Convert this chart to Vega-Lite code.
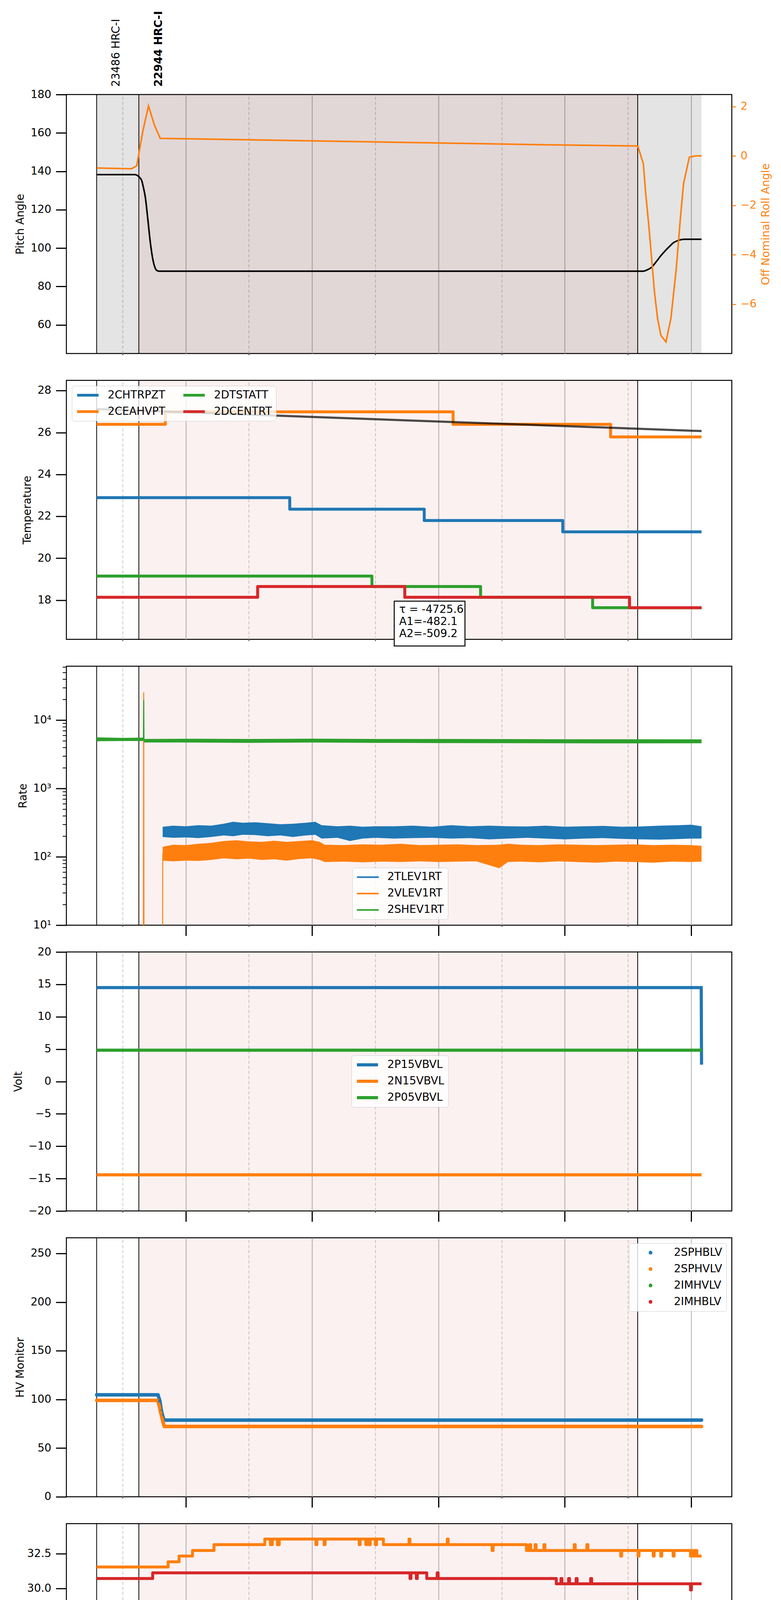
{
  "$schema": "https://vega.github.io/schema/vega-lite/v6.json",
  "padding": {"left": 28, "top": 26, "right": 20, "bottom": 8},
  "background": "white",
  "bounds": "flush",
  "spacing": 68.7,
  "resolve": {"scale": {"color": "independent", "fill": "independent", "stroke": "independent"}},
  "config": {
    "font": "DejaVu Sans",
    "view": {"stroke": "black", "strokeWidth": 2.5},
    "axis": {
      "labelFont": "DejaVu Sans", "titleFont": "DejaVu Sans",
      "labelFontSize": 27.8, "titleFontSize": 27.8, "titleFontWeight": "normal",
      "labelColor": "black", "titleColor": "black", "tickColor": "black",
      "labelFlush": false, "labelOverlap": false, "domain": false
    },
    "axisY": {"tickSize": 27, "tickWidth": 3, "labelPadding": 12, "titlePadding": 11, "grid": false},
    "legend": {
      "labelFont": "DejaVu Sans", "labelFontSize": 27.8, "labelColor": "black", "labelLimit": 400,
      "labelOffset": 20, "rowPadding": 14, "columnPadding": 42, "padding": 10, "clipHeight": 28,
      "fillColor": "rgba(255,255,255,0.8)", "strokeColor": "#cccccc", "cornerRadius": 6
    }
  },
  "datasets": {
    "obs": [
      {"obs": "23486 HRC-I", "start": 16.589, "stop": 17.257},
      {"obs": "22944 HRC-I", "start": 17.257, "stop": 25.154}
    ],
    "span": [{"start": 16.589, "stop": 26.165}],
    "pitch": [
      {"h": 16.589, "v": 138.3}, {"h": 17.2, "v": 138.3}, {"h": 17.235, "v": 137.8}, {"h": 17.27, "v": 136.8},
      {"h": 17.303, "v": 135.1}, {"h": 17.33, "v": 131.5}, {"h": 17.359, "v": 126.7}, {"h": 17.396, "v": 116},
      {"h": 17.439, "v": 102.9}, {"h": 17.476, "v": 94.6}, {"h": 17.513, "v": 89.8}, {"h": 17.545, "v": 88.3},
      {"h": 17.578, "v": 88.0}, {"h": 25.24, "v": 88.0}, {"h": 25.3, "v": 88.6}, {"h": 25.38, "v": 90.2},
      {"h": 25.45, "v": 93.0}, {"h": 25.52, "v": 96.0}, {"h": 25.595, "v": 98.8}, {"h": 25.665, "v": 101.1},
      {"h": 25.72, "v": 102.8}, {"h": 25.78, "v": 103.8}, {"h": 25.84, "v": 104.4}, {"h": 25.9, "v": 104.6},
      {"h": 26.165, "v": 104.6}
    ],
    "roll": [
      {"h": 16.592, "v": -0.49}, {"h": 17.142, "v": -0.52}, {"h": 17.224, "v": -0.4}, {"h": 17.317, "v": 0.96},
      {"h": 17.41, "v": 2.02}, {"h": 17.503, "v": 1.25}, {"h": 17.596, "v": 0.71}, {"h": 23.728, "v": 0.45},
      {"h": 25.156, "v": 0.4}, {"h": 25.244, "v": -0.32}, {"h": 25.279, "v": -1.47}, {"h": 25.336, "v": -2.98},
      {"h": 25.386, "v": -4.5}, {"h": 25.42, "v": -5.52}, {"h": 25.47, "v": -6.6}, {"h": 25.522, "v": -7.27},
      {"h": 25.602, "v": -7.53}, {"h": 25.68, "v": -6.58}, {"h": 25.763, "v": -4.62}, {"h": 25.835, "v": -2.38},
      {"h": 25.881, "v": -1.11}, {"h": 25.972, "v": -0.05}, {"h": 26.071, "v": 0.0}, {"h": 26.165, "v": 0.0}
    ],
    "temp": [
      {"s": "2CHTRPZT", "h": 16.589, "v": 22.89}, {"s": "2CHTRPZT", "h": 19.646, "v": 22.34},
      {"s": "2CHTRPZT", "h": 21.775, "v": 21.8}, {"s": "2CHTRPZT", "h": 23.968, "v": 21.26},
      {"s": "2CHTRPZT", "h": 26.165, "v": 21.26},
      {"s": "2CEAHVPT", "h": 16.589, "v": 26.39}, {"s": "2CEAHVPT", "h": 17.677, "v": 26.99},
      {"s": "2CEAHVPT", "h": 22.232, "v": 26.39}, {"s": "2CEAHVPT", "h": 24.725, "v": 25.79},
      {"s": "2CEAHVPT", "h": 26.165, "v": 25.79},
      {"s": "2DTSTATT", "h": 16.589, "v": 19.15}, {"s": "2DTSTATT", "h": 20.947, "v": 18.65},
      {"s": "2DTSTATT", "h": 22.667, "v": 18.14}, {"s": "2DTSTATT", "h": 24.441, "v": 17.64},
      {"s": "2DTSTATT", "h": 26.165, "v": 17.64},
      {"s": "2DCENTRT", "h": 16.589, "v": 18.14}, {"s": "2DCENTRT", "h": 19.138, "v": 18.65},
      {"s": "2DCENTRT", "h": 21.467, "v": 18.14}, {"s": "2DCENTRT", "h": 25.025, "v": 17.64},
      {"s": "2DCENTRT", "h": 26.165, "v": 17.64}
    ],
    "tmodel": [{"h": 16.589, "v": 27.12}, {"h": 26.165, "v": 26.07}],
    "rateband": [
      {"s": "2TLEV1RT", "h": 17.634, "lo": 195, "hi": 275}, {"s": "2TLEV1RT", "h": 17.8, "lo": 190, "hi": 285},
      {"s": "2TLEV1RT", "h": 18.0, "lo": 192, "hi": 280}, {"s": "2TLEV1RT", "h": 18.2, "lo": 188, "hi": 290},
      {"s": "2TLEV1RT", "h": 18.4, "lo": 195, "hi": 285}, {"s": "2TLEV1RT", "h": 18.6, "lo": 205, "hi": 305},
      {"s": "2TLEV1RT", "h": 18.75, "lo": 200, "hi": 325}, {"s": "2TLEV1RT", "h": 18.9, "lo": 210, "hi": 315},
      {"s": "2TLEV1RT", "h": 19.1, "lo": 208, "hi": 320}, {"s": "2TLEV1RT", "h": 19.3, "lo": 200, "hi": 310},
      {"s": "2TLEV1RT", "h": 19.5, "lo": 205, "hi": 300}, {"s": "2TLEV1RT", "h": 19.7, "lo": 195, "hi": 305},
      {"s": "2TLEV1RT", "h": 19.9, "lo": 205, "hi": 315}, {"s": "2TLEV1RT", "h": 20.05, "lo": 210, "hi": 325},
      {"s": "2TLEV1RT", "h": 20.15, "lo": 185, "hi": 290}, {"s": "2TLEV1RT", "h": 20.4, "lo": 190, "hi": 280},
      {"s": "2TLEV1RT", "h": 20.6, "lo": 170, "hi": 285}, {"s": "2TLEV1RT", "h": 20.8, "lo": 185, "hi": 275},
      {"s": "2TLEV1RT", "h": 21.0, "lo": 190, "hi": 280}, {"s": "2TLEV1RT", "h": 21.3, "lo": 185, "hi": 280},
      {"s": "2TLEV1RT", "h": 21.6, "lo": 188, "hi": 285}, {"s": "2TLEV1RT", "h": 21.9, "lo": 190, "hi": 275},
      {"s": "2TLEV1RT", "h": 22.2, "lo": 185, "hi": 290}, {"s": "2TLEV1RT", "h": 22.5, "lo": 188, "hi": 280},
      {"s": "2TLEV1RT", "h": 22.8, "lo": 180, "hi": 285}, {"s": "2TLEV1RT", "h": 23.1, "lo": 185, "hi": 280},
      {"s": "2TLEV1RT", "h": 23.4, "lo": 190, "hi": 278}, {"s": "2TLEV1RT", "h": 23.7, "lo": 185, "hi": 285},
      {"s": "2TLEV1RT", "h": 24.0, "lo": 180, "hi": 275}, {"s": "2TLEV1RT", "h": 24.3, "lo": 185, "hi": 280},
      {"s": "2TLEV1RT", "h": 24.6, "lo": 188, "hi": 283}, {"s": "2TLEV1RT", "h": 24.9, "lo": 183, "hi": 275},
      {"s": "2TLEV1RT", "h": 25.2, "lo": 180, "hi": 278}, {"s": "2TLEV1RT", "h": 25.5, "lo": 178, "hi": 285},
      {"s": "2TLEV1RT", "h": 25.8, "lo": 182, "hi": 290}, {"s": "2TLEV1RT", "h": 26.0, "lo": 185, "hi": 295},
      {"s": "2TLEV1RT", "h": 26.165, "lo": 185, "hi": 280},
      {"s": "2VLEV1RT", "h": 17.634, "lo": 88, "hi": 140}, {"s": "2VLEV1RT", "h": 17.8, "lo": 86, "hi": 150},
      {"s": "2VLEV1RT", "h": 18.0, "lo": 88, "hi": 148}, {"s": "2VLEV1RT", "h": 18.2, "lo": 87, "hi": 155},
      {"s": "2VLEV1RT", "h": 18.4, "lo": 90, "hi": 160}, {"s": "2VLEV1RT", "h": 18.6, "lo": 95, "hi": 170},
      {"s": "2VLEV1RT", "h": 18.8, "lo": 92, "hi": 175}, {"s": "2VLEV1RT", "h": 19.0, "lo": 94, "hi": 168},
      {"s": "2VLEV1RT", "h": 19.2, "lo": 90, "hi": 165}, {"s": "2VLEV1RT", "h": 19.4, "lo": 92, "hi": 172},
      {"s": "2VLEV1RT", "h": 19.6, "lo": 88, "hi": 165}, {"s": "2VLEV1RT", "h": 19.8, "lo": 93, "hi": 170},
      {"s": "2VLEV1RT", "h": 20.0, "lo": 95, "hi": 175}, {"s": "2VLEV1RT", "h": 20.12, "lo": 90, "hi": 165},
      {"s": "2VLEV1RT", "h": 20.2, "lo": 84, "hi": 150}, {"s": "2VLEV1RT", "h": 20.5, "lo": 85, "hi": 148},
      {"s": "2VLEV1RT", "h": 20.8, "lo": 83, "hi": 152}, {"s": "2VLEV1RT", "h": 21.1, "lo": 85, "hi": 150},
      {"s": "2VLEV1RT", "h": 21.4, "lo": 84, "hi": 155}, {"s": "2VLEV1RT", "h": 21.7, "lo": 86, "hi": 148},
      {"s": "2VLEV1RT", "h": 22.0, "lo": 84, "hi": 150}, {"s": "2VLEV1RT", "h": 22.3, "lo": 85, "hi": 152},
      {"s": "2VLEV1RT", "h": 22.6, "lo": 86, "hi": 148}, {"s": "2VLEV1RT", "h": 22.96, "lo": 68, "hi": 150},
      {"s": "2VLEV1RT", "h": 23.1, "lo": 84, "hi": 155}, {"s": "2VLEV1RT", "h": 23.3, "lo": 85, "hi": 150},
      {"s": "2VLEV1RT", "h": 23.6, "lo": 83, "hi": 148}, {"s": "2VLEV1RT", "h": 23.9, "lo": 86, "hi": 152},
      {"s": "2VLEV1RT", "h": 24.2, "lo": 84, "hi": 150}, {"s": "2VLEV1RT", "h": 24.5, "lo": 82, "hi": 148},
      {"s": "2VLEV1RT", "h": 24.8, "lo": 85, "hi": 150}, {"s": "2VLEV1RT", "h": 25.1, "lo": 84, "hi": 152},
      {"s": "2VLEV1RT", "h": 25.4, "lo": 82, "hi": 148}, {"s": "2VLEV1RT", "h": 25.7, "lo": 85, "hi": 150},
      {"s": "2VLEV1RT", "h": 26.0, "lo": 84, "hi": 148}, {"s": "2VLEV1RT", "h": 26.165, "lo": 85, "hi": 145},
      {"s": "2SHEV1RT", "h": 16.589, "lo": 4900, "hi": 5600}, {"s": "2SHEV1RT", "h": 17.0, "lo": 4950, "hi": 5500},
      {"s": "2SHEV1RT", "h": 17.33, "lo": 4950, "hi": 5550}, {"s": "2SHEV1RT", "h": 17.34, "lo": 4700, "hi": 5300},
      {"s": "2SHEV1RT", "h": 18.0, "lo": 4700, "hi": 5330}, {"s": "2SHEV1RT", "h": 19.0, "lo": 4650, "hi": 5300},
      {"s": "2SHEV1RT", "h": 20.0, "lo": 4700, "hi": 5350}, {"s": "2SHEV1RT", "h": 21.0, "lo": 4650, "hi": 5300},
      {"s": "2SHEV1RT", "h": 22.0, "lo": 4620, "hi": 5300}, {"s": "2SHEV1RT", "h": 23.0, "lo": 4600, "hi": 5280},
      {"s": "2SHEV1RT", "h": 24.0, "lo": 4580, "hi": 5250}, {"s": "2SHEV1RT", "h": 25.0, "lo": 4560, "hi": 5250},
      {"s": "2SHEV1RT", "h": 26.165, "lo": 4580, "hi": 5230}
    ],
    "ratespike": [
      {"s": "2VLEV1RT", "h": 17.329, "v": 1}, {"s": "2VLEV1RT", "h": 17.334, "v": 25500},
      {"s": "2VLEV1RT", "h": 17.339, "v": 1}, {"s": "2VLEV1RT", "h": 17.632, "v": 1},
      {"s": "2VLEV1RT", "h": 17.636, "v": 112},
      {"s": "2SHEV1RT", "h": 17.329, "v": 5100}, {"s": "2SHEV1RT", "h": 17.334, "v": 19800},
      {"s": "2SHEV1RT", "h": 17.339, "v": 5000}
    ],
    "volt": [
      {"s": "2P15VBVL", "h": 16.589, "v": 14.5}, {"s": "2P15VBVL", "h": 26.16, "v": 14.5}, {"s": "2P15VBVL", "h": 26.165, "v": 2.6},
      {"s": "2N15VBVL", "h": 16.589, "v": -14.42}, {"s": "2N15VBVL", "h": 26.165, "v": -14.42},
      {"s": "2P05VBVL", "h": 16.589, "v": 4.84}, {"s": "2P05VBVL", "h": 26.165, "v": 4.84}
    ],
    "hv": [
      {"s": "2SPHBLV", "h": 16.589, "v": 104.7}, {"s": "2SPHBLV", "h": 17.56, "v": 104.7},
      {"s": "2SPHBLV", "h": 17.59, "v": 98.5}, {"s": "2SPHBLV", "h": 17.615, "v": 88},
      {"s": "2SPHBLV", "h": 17.635, "v": 83}, {"s": "2SPHBLV", "h": 17.655, "v": 78.8},
      {"s": "2SPHBLV", "h": 26.165, "v": 78.8},
      {"s": "2SPHVLV", "h": 16.589, "v": 99.0}, {"s": "2SPHVLV", "h": 17.555, "v": 99.0},
      {"s": "2SPHVLV", "h": 17.585, "v": 92}, {"s": "2SPHVLV", "h": 17.6, "v": 87},
      {"s": "2SPHVLV", "h": 17.62, "v": 82}, {"s": "2SPHVLV", "h": 17.64, "v": 76.6},
      {"s": "2SPHVLV", "h": 17.66, "v": 72.2}, {"s": "2SPHVLV", "h": 26.165, "v": 72.2}
    ],
    "hvpts": [
      {"s": "2SPHBLV", "h": 17.59, "v": 98.5}, {"s": "2SPHBLV", "h": 17.615, "v": 88}, {"s": "2SPHBLV", "h": 17.635, "v": 83},
      {"s": "2SPHVLV", "h": 17.585, "v": 92}, {"s": "2SPHVLV", "h": 17.6, "v": 87}, {"s": "2SPHVLV", "h": 17.62, "v": 82},
      {"s": "2SPHVLV", "h": 17.64, "v": 76.6}
    ],
    "dettemp": [
      {"s": "2SPINATM", "h": 16.589, "v": 17.63}, {"s": "2SPINATM", "h": 21.771, "v": 18.37},
      {"s": "2SPINATM", "h": 21.779, "v": 17.63}, {"s": "2SPINATM", "h": 26.165, "v": 17.63},
      {"s": "2SPHVATM", "h": 16.589, "v": 31.54}, {"s": "2SPHVATM", "h": 17.721, "v": 31.91},
      {"s": "2SPHVATM", "h": 17.894, "v": 32.32}, {"s": "2SPHVATM", "h": 18.107, "v": 32.72},
      {"s": "2SPHVATM", "h": 18.447, "v": 33.14}, {"s": "2SPHVATM", "h": 19.251, "v": 33.54},
      {"s": "2SPHVATM", "h": 19.34, "v": 33.14}, {"s": "2SPHVATM", "h": 19.37, "v": 33.54},
      {"s": "2SPHVATM", "h": 19.45, "v": 33.14}, {"s": "2SPHVATM", "h": 19.48, "v": 33.54},
      {"s": "2SPHVATM", "h": 20.06, "v": 33.14}, {"s": "2SPHVATM", "h": 20.075, "v": 33.54},
      {"s": "2SPHVATM", "h": 20.19, "v": 33.14}, {"s": "2SPHVATM", "h": 20.205, "v": 33.54},
      {"s": "2SPHVATM", "h": 20.745, "v": 33.14}, {"s": "2SPHVATM", "h": 20.76, "v": 33.54},
      {"s": "2SPHVATM", "h": 20.85, "v": 33.14}, {"s": "2SPHVATM", "h": 20.865, "v": 33.54},
      {"s": "2SPHVATM", "h": 20.9, "v": 33.14}, {"s": "2SPHVATM", "h": 20.92, "v": 33.54},
      {"s": "2SPHVATM", "h": 21.0, "v": 33.14}, {"s": "2SPHVATM", "h": 21.02, "v": 33.54},
      {"s": "2SPHVATM", "h": 21.129, "v": 33.14},
      {"s": "2SPHVATM", "h": 21.535, "v": 33.54}, {"s": "2SPHVATM", "h": 21.548, "v": 33.14},
      {"s": "2SPHVATM", "h": 22.14, "v": 33.54}, {"s": "2SPHVATM", "h": 22.153, "v": 33.14},
      {"s": "2SPHVATM", "h": 22.85, "v": 32.72}, {"s": "2SPHVATM", "h": 22.865, "v": 33.14},
      {"s": "2SPHVATM", "h": 23.393, "v": 32.72},
      {"s": "2SPHVATM", "h": 23.44, "v": 33.14}, {"s": "2SPHVATM", "h": 23.46, "v": 32.72},
      {"s": "2SPHVATM", "h": 23.53, "v": 33.14}, {"s": "2SPHVATM", "h": 23.545, "v": 32.72},
      {"s": "2SPHVATM", "h": 23.67, "v": 33.14}, {"s": "2SPHVATM", "h": 23.685, "v": 32.72},
      {"s": "2SPHVATM", "h": 24.15, "v": 33.14}, {"s": "2SPHVATM", "h": 24.165, "v": 32.72},
      {"s": "2SPHVATM", "h": 24.35, "v": 33.14}, {"s": "2SPHVATM", "h": 24.365, "v": 32.72},
      {"s": "2SPHVATM", "h": 24.885, "v": 32.32}, {"s": "2SPHVATM", "h": 24.9, "v": 32.72},
      {"s": "2SPHVATM", "h": 25.16, "v": 32.32}, {"s": "2SPHVATM", "h": 25.175, "v": 32.72},
      {"s": "2SPHVATM", "h": 25.4, "v": 32.32}, {"s": "2SPHVATM", "h": 25.415, "v": 32.72},
      {"s": "2SPHVATM", "h": 25.52, "v": 32.32}, {"s": "2SPHVATM", "h": 25.535, "v": 32.72},
      {"s": "2SPHVATM", "h": 25.715, "v": 32.32}, {"s": "2SPHVATM", "h": 25.73, "v": 32.72},
      {"s": "2SPHVATM", "h": 25.99, "v": 32.32}, {"s": "2SPHVATM", "h": 26.01, "v": 32.72},
      {"s": "2SPHVATM", "h": 26.03, "v": 32.32}, {"s": "2SPHVATM", "h": 26.06, "v": 32.72},
      {"s": "2SPHVATM", "h": 26.09, "v": 32.32}, {"s": "2SPHVATM", "h": 26.165, "v": 32.32},
      {"s": "2IMINATM", "h": 16.589, "v": 18.94}, {"s": "2IMINATM", "h": 22.761, "v": 18.27},
      {"s": "2IMINATM", "h": 26.14, "v": 17.63}, {"s": "2IMINATM", "h": 26.165, "v": 17.63},
      {"s": "2IMHVATM", "h": 16.589, "v": 30.72}, {"s": "2IMHVATM", "h": 17.476, "v": 31.12},
      {"s": "2IMHVATM", "h": 21.55, "v": 30.72}, {"s": "2IMHVATM", "h": 21.565, "v": 31.12},
      {"s": "2IMHVATM", "h": 21.65, "v": 30.72}, {"s": "2IMHVATM", "h": 21.665, "v": 31.12},
      {"s": "2IMHVATM", "h": 21.815, "v": 30.72},
      {"s": "2IMHVATM", "h": 21.98, "v": 31.12}, {"s": "2IMHVATM", "h": 21.995, "v": 30.72},
      {"s": "2IMHVATM", "h": 23.865, "v": 30.34},
      {"s": "2IMHVATM", "h": 23.94, "v": 30.72}, {"s": "2IMHVATM", "h": 23.955, "v": 30.34},
      {"s": "2IMHVATM", "h": 24.06, "v": 30.72}, {"s": "2IMHVATM", "h": 24.075, "v": 30.34},
      {"s": "2IMHVATM", "h": 24.18, "v": 30.72}, {"s": "2IMHVATM", "h": 24.195, "v": 30.34},
      {"s": "2IMHVATM", "h": 24.41, "v": 30.72}, {"s": "2IMHVATM", "h": 24.425, "v": 30.34},
      {"s": "2IMHVATM", "h": 25.99, "v": 29.9}, {"s": "2IMHVATM", "h": 26.005, "v": 30.34},
      {"s": "2IMHVATM", "h": 26.165, "v": 30.34}
    ],
    "featemp": [
      {"s": "2FHTRMZT", "h": 16.589, "v": 22.36}, {"s": "2FHTRMZT", "h": 18.265, "v": 21.815},
      {"s": "2FHTRMZT", "h": 19.235, "v": 21.277}, {"s": "2FHTRMZT", "h": 20.237, "v": 20.74},
      {"s": "2FHTRMZT", "h": 21.341, "v": 20.211}, {"s": "2FHTRMZT", "h": 22.509, "v": 19.683},
      {"s": "2FHTRMZT", "h": 23.85, "v": 19.173}, {"s": "2FHTRMZT", "h": 26.165, "v": 19.173},
      {"s": "2FRADPYT", "h": 16.589, "v": 18.153}, {"s": "2FRADPYT", "h": 17.579, "v": 17.652},
      {"s": "2FRADPYT", "h": 17.887, "v": 17.16}, {"s": "2FRADPYT", "h": 18.368, "v": 16.669},
      {"s": "2FRADPYT", "h": 19.094, "v": 16.186}, {"s": "2FRADPYT", "h": 19.945, "v": 15.712},
      {"s": "2FRADPYT", "h": 20.876, "v": 15.239}, {"s": "2FRADPYT", "h": 21.878, "v": 14.774},
      {"s": "2FRADPYT", "h": 23.037, "v": 14.3}, {"s": "2FRADPYT", "h": 24.457, "v": 13.845},
      {"s": "2FRADPYT", "h": 25.459, "v": 14.3}, {"s": "2FRADPYT", "h": 25.617, "v": 14.774},
      {"s": "2FRADPYT", "h": 25.988, "v": 14.3}, {"s": "2FRADPYT", "h": 26.165, "v": 14.3},
      {"s": "2FEPRATM", "h": 16.589, "v": 23.89}, {"s": "2FEPRATM", "h": 19.291, "v": 23.153},
      {"s": "2FEPRATM", "h": 20.829, "v": 22.425}, {"s": "2FEPRATM", "h": 22.509, "v": 21.705},
      {"s": "2FEPRATM", "h": 24.56, "v": 20.986}, {"s": "2FEPRATM", "h": 26.165, "v": 20.986},
      {"s": "2FE00ATM", "h": 16.589, "v": 22.04}, {"s": "2FE00ATM", "h": 16.632, "v": 22.36},
      {"s": "2FE00ATM", "h": 17.83, "v": 22.04}, {"s": "2FE00ATM", "h": 17.845, "v": 22.36},
      {"s": "2FE00ATM", "h": 17.93, "v": 22.04}, {"s": "2FE00ATM", "h": 17.95, "v": 22.36},
      {"s": "2FE00ATM", "h": 17.99, "v": 22.04},
      {"s": "2FE00ATM", "h": 18.26, "v": 21.39}, {"s": "2FE00ATM", "h": 18.275, "v": 22.04},
      {"s": "2FE00ATM", "h": 18.46, "v": 21.72}, {"s": "2FE00ATM", "h": 18.475, "v": 22.04},
      {"s": "2FE00ATM", "h": 18.7, "v": 21.72},
      {"s": "2FE00ATM", "h": 19.11, "v": 21.42}, {"s": "2FE00ATM", "h": 19.125, "v": 21.72},
      {"s": "2FE00ATM", "h": 19.19, "v": 21.42}, {"s": "2FE00ATM", "h": 19.205, "v": 21.72},
      {"s": "2FE00ATM", "h": 19.41, "v": 21.42},
      {"s": "2FE00ATM", "h": 19.575, "v": 22.36}, {"s": "2FE00ATM", "h": 19.59, "v": 20.75},
      {"s": "2FE00ATM", "h": 19.605, "v": 21.42},
      {"s": "2FE00ATM", "h": 20.2, "v": 21.15}, {"s": "2FE00ATM", "h": 20.27, "v": 21.42},
      {"s": "2FE00ATM", "h": 20.285, "v": 21.15}, {"s": "2FE00ATM", "h": 20.33, "v": 21.42},
      {"s": "2FE00ATM", "h": 20.345, "v": 21.15},
      {"s": "2FE00ATM", "h": 20.485, "v": 20.15}, {"s": "2FE00ATM", "h": 20.5, "v": 21.15},
      {"s": "2FE00ATM", "h": 20.65, "v": 19.26}, {"s": "2FE00ATM", "h": 20.665, "v": 21.15},
      {"s": "2FE00ATM", "h": 20.8, "v": 20.81}, {"s": "2FE00ATM", "h": 20.815, "v": 21.15},
      {"s": "2FE00ATM", "h": 20.87, "v": 20.81}, {"s": "2FE00ATM", "h": 20.885, "v": 21.15},
      {"s": "2FE00ATM", "h": 20.95, "v": 20.81},
      {"s": "2FE00ATM", "h": 21.14, "v": 20.45}, {"s": "2FE00ATM", "h": 21.155, "v": 20.81},
      {"s": "2FE00ATM", "h": 21.355, "v": 22.09}, {"s": "2FE00ATM", "h": 21.37, "v": 20.81},
      {"s": "2FE00ATM", "h": 21.775, "v": 20.49},
      {"s": "2FE00ATM", "h": 22.065, "v": 20.15}, {"s": "2FE00ATM", "h": 22.08, "v": 20.49},
      {"s": "2FE00ATM", "h": 22.165, "v": 20.81}, {"s": "2FE00ATM", "h": 22.18, "v": 20.49},
      {"s": "2FE00ATM", "h": 22.48, "v": 21.15}, {"s": "2FE00ATM", "h": 22.495, "v": 20.49},
      {"s": "2FE00ATM", "h": 22.68, "v": 20.19}, {"s": "2FE00ATM", "h": 22.69, "v": 19.58},
      {"s": "2FE00ATM", "h": 22.705, "v": 20.19},
      {"s": "2FE00ATM", "h": 22.955, "v": 20.49}, {"s": "2FE00ATM", "h": 22.97, "v": 20.19},
      {"s": "2FE00ATM", "h": 23.15, "v": 19.58}, {"s": "2FE00ATM", "h": 23.165, "v": 20.19},
      {"s": "2FE00ATM", "h": 23.18, "v": 18.12}, {"s": "2FE00ATM", "h": 23.195, "v": 20.19},
      {"s": "2FE00ATM", "h": 23.235, "v": 20.49}, {"s": "2FE00ATM", "h": 23.25, "v": 20.19},
      {"s": "2FE00ATM", "h": 23.375, "v": 19.8}, {"s": "2FE00ATM", "h": 23.39, "v": 20.19},
      {"s": "2FE00ATM", "h": 23.4, "v": 20.49}, {"s": "2FE00ATM", "h": 23.415, "v": 20.19},
      {"s": "2FE00ATM", "h": 23.55, "v": 19.58}, {"s": "2FE00ATM", "h": 23.565, "v": 20.19},
      {"s": "2FE00ATM", "h": 23.67, "v": 19.88},
      {"s": "2FE00ATM", "h": 23.745, "v": 20.81}, {"s": "2FE00ATM", "h": 23.76, "v": 19.88},
      {"s": "2FE00ATM", "h": 24.02, "v": 19.58}, {"s": "2FE00ATM", "h": 24.035, "v": 19.88},
      {"s": "2FE00ATM", "h": 24.155, "v": 18.67}, {"s": "2FE00ATM", "h": 24.17, "v": 19.88},
      {"s": "2FE00ATM", "h": 24.345, "v": 19.58}, {"s": "2FE00ATM", "h": 24.36, "v": 19.88},
      {"s": "2FE00ATM", "h": 24.76, "v": 19.58},
      {"s": "2FE00ATM", "h": 25.025, "v": 20.22}, {"s": "2FE00ATM", "h": 25.04, "v": 19.58},
      {"s": "2FE00ATM", "h": 25.26, "v": 19.88}, {"s": "2FE00ATM", "h": 25.275, "v": 19.58},
      {"s": "2FE00ATM", "h": 25.53, "v": 19.26}, {"s": "2FE00ATM", "h": 25.545, "v": 19.58},
      {"s": "2FE00ATM", "h": 25.6, "v": 19.88}, {"s": "2FE00ATM", "h": 25.615, "v": 19.58},
      {"s": "2FE00ATM", "h": 25.655, "v": 20.22}, {"s": "2FE00ATM", "h": 25.67, "v": 19.58},
      {"s": "2FE00ATM", "h": 25.715, "v": 20.54}, {"s": "2FE00ATM", "h": 25.73, "v": 19.58},
      {"s": "2FE00ATM", "h": 25.76, "v": 19.88}, {"s": "2FE00ATM", "h": 25.775, "v": 19.58},
      {"s": "2FE00ATM", "h": 25.8, "v": 19.88}, {"s": "2FE00ATM", "h": 25.815, "v": 19.58},
      {"s": "2FE00ATM", "h": 25.84, "v": 19.88}, {"s": "2FE00ATM", "h": 25.86, "v": 19.58},
      {"s": "2FE00ATM", "h": 25.89, "v": 20.22}, {"s": "2FE00ATM", "h": 25.905, "v": 19.58},
      {"s": "2FE00ATM", "h": 25.94, "v": 19.88}, {"s": "2FE00ATM", "h": 25.96, "v": 19.58},
      {"s": "2FE00ATM", "h": 26.0, "v": 19.88}, {"s": "2FE00ATM", "h": 26.02, "v": 19.58},
      {"s": "2FE00ATM", "h": 26.165, "v": 19.58}
    ]
  },
  "vconcat": [
    {
      "width": 1704, "height": 663,
      "resolve": {"axis": {"x": "independent"}},
      "layer": [
        {
          "layer": [
            {"data": {"name": "span"}, "mark": {"type": "rect", "color": "black", "opacity": 0.105},
             "encoding": {"x": {"field": "start", "type": "quantitative", "scale": {"domain": [16.11, 26.644], "nice": false, "zero": false},
               "axis": {"orient": "bottom", "values": [17, 19, 21, 23, 25], "grid": true, "gridColor": "#bdbdbd", "gridDash": [8, 5], "gridWidth": 1.6, "ticks": true, "tickSize": 4, "tickWidth": 1.5, "labels": false, "title": null}},
              "x2": {"field": "stop"}}},
            {"data": {"name": "obs"}, "transform": [{"filter": "datum.obs == '22944 HRC-I'"}], "mark": {"type": "rect", "color": "#d62728", "opacity": 0.065},
             "encoding": {"x": {"field": "start", "type": "quantitative"}, "x2": {"field": "stop"}}},
            {"data": {"name": "obs"}, "mark": {"type": "rule", "color": "black", "strokeWidth": 2},
             "encoding": {"x": {"field": "start", "type": "quantitative"}}},
            {"data": {"name": "obs"}, "transform": [{"filter": "datum.obs == '22944 HRC-I'"}], "mark": {"type": "rule", "color": "black", "strokeWidth": 2},
             "encoding": {"x": {"field": "stop", "type": "quantitative"}}}
          ]
        },
        {
          "resolve": {"scale": {"y": "independent"}},
          "layer": [
            {
              "layer": [
                {"data": {"name": "pitch"}, "mark": {"type": "line", "color": "black", "strokeWidth": 4, "interpolate": "monotone"},
                 "encoding": {
                   "x": {"field": "h", "type": "quantitative", "scale": {"domain": [16.11, 26.644], "nice": false, "zero": false},
                     "axis": {"orient": "bottom", "values": [18, 20, 22, 24, 26], "grid": true, "gridColor": "#b0b0b0", "gridWidth": 2, "ticks": false, "labels": false, "title": null}},
                   "y": {"field": "v", "type": "quantitative", "scale": {"domain": [45.1, 180], "nice": false, "zero": false},
                     "axis": {"orient": "left", "title": "Pitch Angle", "values": [60, 80, 100, 120, 140, 160, 180]}}}},
                {"data": {"name": "obs"}, "transform": [{"filter": "datum.obs != '22944 HRC-I'"}],
                 "mark": {"type": "text", "angle": 270, "align": "left", "baseline": "middle", "dx": 20, "dy": 51, "fontSize": 27.8, "font": "DejaVu Sans", "color": "black"},
                 "encoding": {"x": {"field": "start", "type": "quantitative"}, "y": {"datum": 180, "type": "quantitative"}, "text": {"field": "obs"}}},
                {"data": {"name": "obs"}, "transform": [{"filter": "datum.obs == '22944 HRC-I'"}],
                 "mark": {"type": "text", "angle": 270, "align": "left", "baseline": "middle", "dx": 20, "dy": 51, "fontSize": 27.8, "fontWeight": "bold", "font": "DejaVu Sans", "color": "black"},
                 "encoding": {"x": {"field": "start", "type": "quantitative"}, "y": {"datum": 180, "type": "quantitative"}, "text": {"field": "obs"}}}
              ]
            },
            {"data": {"name": "roll"}, "mark": {"type": "line", "color": "#ff7f0e", "strokeWidth": 4},
             "encoding": {
               "x": {"field": "h", "type": "quantitative"},
               "y": {"field": "v", "type": "quantitative", "scale": {"domain": [-8.0, 2.484], "nice": false, "zero": false},
                 "axis": {"orient": "right", "title": "Off Nominal Roll Angle", "values": [-6, -4, -2, 0, 2], "tickSize": 10, "tickWidth": 2.5,
                   "tickColor": "#ff7f0e", "labelColor": "#ff7f0e", "titleColor": "#ff7f0e", "titleAngle": 270, "titleBaseline": "top", "labelPadding": 12, "titlePadding": 11}}}}
          ]
        }
      ]
    },
    {
      "width": 1704, "height": 663,
      "resolve": {"axis": {"x": "independent"}},
      "layer": [
        {
          "layer": [
            {"data": {"name": "obs"}, "transform": [{"filter": "datum.obs == '22944 HRC-I'"}], "mark": {"type": "rect", "color": "#d62728", "opacity": 0.065},
             "encoding": {"x": {"field": "start", "type": "quantitative", "scale": {"domain": [16.11, 26.644], "nice": false, "zero": false},
               "axis": {"orient": "bottom", "values": [17, 19, 21, 23, 25], "grid": true, "gridColor": "#bdbdbd", "gridDash": [8, 5], "gridWidth": 1.6, "ticks": true, "tickSize": 4, "tickWidth": 1.5, "labels": false, "title": null}},
              "x2": {"field": "stop"}}},
            {"data": {"name": "obs"}, "mark": {"type": "rule", "color": "black", "strokeWidth": 2},
             "encoding": {"x": {"field": "start", "type": "quantitative"}}},
            {"data": {"name": "obs"}, "transform": [{"filter": "datum.obs == '22944 HRC-I'"}], "mark": {"type": "rule", "color": "black", "strokeWidth": 2},
             "encoding": {"x": {"field": "stop", "type": "quantitative"}}}
          ]
        },
        {
          "layer": [
            {"data": {"name": "temp"}, "mark": {"type": "line", "strokeWidth": 7.5, "interpolate": "step-after", "strokeJoin": "round"},
             "encoding": {
               "x": {"field": "h", "type": "quantitative", "scale": {"domain": [16.11, 26.644], "nice": false, "zero": false},
                 "axis": {"orient": "bottom", "values": [18, 20, 22, 24, 26], "grid": true, "gridColor": "#b0b0b0", "gridWidth": 2, "ticks": false, "labels": false, "title": null}},
               "y": {"field": "v", "type": "quantitative", "scale": {"domain": [16.13, 28.49], "nice": false, "zero": false},
                 "axis": {"title": "Temperature", "values": [18, 20, 22, 24, 26, 28]}},
               "color": {"field": "s", "type": "nominal",
                 "scale": {"domain": ["2CHTRPZT", "2CEAHVPT", "2DTSTATT", "2DCENTRT"], "range": ["#1f77b4", "#ff7f0e", "#2ca02c", "#d62728"]},
                 "legend": {"title": null, "orient": "top-left", "offset": 14, "columns": 2, "symbolType": "stroke", "symbolSize": 3025, "symbolStrokeWidth": 7}}}},
            {"data": {"name": "tmodel"}, "mark": {"type": "line", "color": "black", "opacity": 0.7, "strokeWidth": 5.5},
             "encoding": {"x": {"field": "h", "type": "quantitative"}, "y": {"field": "v", "type": "quantitative"}}},
            {"data": {"values": [{}]}, "mark": {"type": "rect", "fill": "white", "stroke": "black", "strokeWidth": 2.5},
             "encoding": {"x": {"datum": 21.3, "type": "quantitative"}, "x2": {"datum": 22.42},
               "y": {"datum": 17.95, "type": "quantitative"}, "y2": {"datum": 15.81}}},
            {"data": {"values": [{}]}, "mark": {"type": "text", "align": "left", "baseline": "top", "fontSize": 27.8, "lineHeight": 31, "font": "DejaVu Sans", "color": "black"},
             "encoding": {"x": {"datum": 21.378, "type": "quantitative"}, "y": {"datum": 17.8, "type": "quantitative"},
               "text": {"value": ["τ = -4725.6", "A1=-482.1", "A2=-509.2"]}}}
          ]
        }
      ]
    },
    {
      "width": 1704, "height": 663,
      "resolve": {"axis": {"x": "independent", "y": "independent"}},
      "layer": [
        {
          "layer": [
            {"data": {"name": "obs"}, "transform": [{"filter": "datum.obs == '22944 HRC-I'"}], "mark": {"type": "rect", "color": "#d62728", "opacity": 0.065},
             "encoding": {"x": {"field": "start", "type": "quantitative", "scale": {"domain": [16.11, 26.644], "nice": false, "zero": false},
               "axis": {"orient": "bottom", "values": [17, 19, 21, 23, 25], "grid": true, "gridColor": "#bdbdbd", "gridDash": [8, 5], "gridWidth": 1.6, "ticks": true, "tickSize": 4, "tickWidth": 1.5, "labels": false, "title": null}},
              "x2": {"field": "stop"}}},
            {"data": {"name": "obs"}, "mark": {"type": "rule", "color": "black", "strokeWidth": 2},
             "encoding": {"x": {"field": "start", "type": "quantitative"}}},
            {"data": {"name": "obs"}, "transform": [{"filter": "datum.obs == '22944 HRC-I'"}], "mark": {"type": "rule", "color": "black", "strokeWidth": 2},
             "encoding": {"x": {"field": "stop", "type": "quantitative"}}}
          ]
        },
        {"data": {"name": "rateband"}, "mark": {"type": "area", "clip": true},
         "encoding": {
           "x": {"field": "h", "type": "quantitative", "scale": {"domain": [16.11, 26.644], "nice": false, "zero": false},
             "axis": {"orient": "bottom", "values": [18, 20, 22, 24, 26], "grid": true, "gridColor": "#b0b0b0", "gridWidth": 2, "ticks": true, "tickSize": 27, "tickWidth": 3, "labels": false, "title": null}},
           "y": {"field": "lo", "type": "quantitative", "stack": null, "scale": {"type": "log", "domain": [10, 61500], "nice": false},
             "axis": {"orient": "left", "title": "Rate", "values": [10, 100, 1000, 10000],
               "labelExpr": "datum.value == 10 ? '10¹' : datum.value == 100 ? '10²' : datum.value == 1000 ? '10³' : '10⁴'"}},
           "y2": {"field": "hi"},
           "fill": {"field": "s", "type": "nominal",
             "scale": {"domain": ["2SHEV1RT", "2VLEV1RT", "2TLEV1RT"], "range": ["#2ca02c", "#ff7f0e", "#1f77b4"]}, "legend": null}}},
        {"data": {"name": "ratespike"}, "mark": {"type": "line", "strokeWidth": 2.5, "clip": true},
         "encoding": {
           "x": {"field": "h", "type": "quantitative", "scale": {"domain": [16.11, 26.644], "nice": false, "zero": false}, "axis": null},
           "y": {"field": "v", "type": "quantitative", "scale": {"type": "log", "domain": [10, 61500], "nice": false},
             "axis": {"orient": "left", "title": null, "labels": false, "tickSize": 10, "tickWidth": 2,
               "values": [20, 30, 40, 50, 60, 70, 80, 90, 200, 300, 400, 500, 600, 700, 800, 900, 2000, 3000, 4000, 5000, 6000, 7000, 8000, 9000, 20000, 30000, 40000, 50000, 60000]}},
           "color": {"field": "s", "type": "nominal",
             "scale": {"domain": ["2TLEV1RT", "2VLEV1RT", "2SHEV1RT"], "range": ["#1f77b4", "#ff7f0e", "#2ca02c"]},
             "legend": {"title": null, "orient": "none", "legendX": 732, "legendY": 516, "symbolType": "stroke", "symbolSize": 3136, "symbolStrokeWidth": 4}}}}
      ]
    },
    {
      "width": 1704, "height": 663,
      "resolve": {"axis": {"x": "independent"}},
      "layer": [
        {
          "layer": [
            {"data": {"name": "obs"}, "transform": [{"filter": "datum.obs == '22944 HRC-I'"}], "mark": {"type": "rect", "color": "#d62728", "opacity": 0.065},
             "encoding": {"x": {"field": "start", "type": "quantitative", "scale": {"domain": [16.11, 26.644], "nice": false, "zero": false},
               "axis": {"orient": "bottom", "values": [17, 19, 21, 23, 25], "grid": true, "gridColor": "#bdbdbd", "gridDash": [8, 5], "gridWidth": 1.6, "ticks": true, "tickSize": 4, "tickWidth": 1.5, "labels": false, "title": null}},
              "x2": {"field": "stop"}}},
            {"data": {"name": "obs"}, "mark": {"type": "rule", "color": "black", "strokeWidth": 2},
             "encoding": {"x": {"field": "start", "type": "quantitative"}}},
            {"data": {"name": "obs"}, "transform": [{"filter": "datum.obs == '22944 HRC-I'"}], "mark": {"type": "rule", "color": "black", "strokeWidth": 2},
             "encoding": {"x": {"field": "stop", "type": "quantitative"}}}
          ]
        },
        {"data": {"name": "volt"}, "mark": {"type": "line", "strokeWidth": 8},
         "encoding": {
           "x": {"field": "h", "type": "quantitative", "scale": {"domain": [16.11, 26.644], "nice": false, "zero": false},
             "axis": {"orient": "bottom", "values": [18, 20, 22, 24, 26], "grid": true, "gridColor": "#b0b0b0", "gridWidth": 2, "ticks": true, "tickSize": 27, "tickWidth": 3, "labels": false, "title": null}},
           "y": {"field": "v", "type": "quantitative", "scale": {"domain": [-20, 20], "nice": false, "zero": false},
             "axis": {"title": "Volt", "values": [-20, -15, -10, -5, 0, 5, 10, 15, 20]}},
           "color": {"field": "s", "type": "nominal",
             "scale": {"domain": ["2P15VBVL", "2N15VBVL", "2P05VBVL"], "range": ["#1f77b4", "#ff7f0e", "#2ca02c"]},
             "legend": {"title": null, "orient": "none", "legendX": 730, "legendY": 265, "symbolType": "stroke", "symbolSize": 2916, "symbolStrokeWidth": 8}}}}
      ]
    },
    {
      "width": 1704, "height": 663,
      "resolve": {"axis": {"x": "independent"}},
      "layer": [
        {
          "layer": [
            {"data": {"name": "obs"}, "transform": [{"filter": "datum.obs == '22944 HRC-I'"}], "mark": {"type": "rect", "color": "#d62728", "opacity": 0.065},
             "encoding": {"x": {"field": "start", "type": "quantitative", "scale": {"domain": [16.11, 26.644], "nice": false, "zero": false},
               "axis": {"orient": "bottom", "values": [17, 19, 21, 23, 25], "grid": true, "gridColor": "#bdbdbd", "gridDash": [8, 5], "gridWidth": 1.6, "ticks": true, "tickSize": 4, "tickWidth": 1.5, "labels": false, "title": null}},
              "x2": {"field": "stop"}}},
            {"data": {"name": "obs"}, "mark": {"type": "rule", "color": "black", "strokeWidth": 2},
             "encoding": {"x": {"field": "start", "type": "quantitative"}}},
            {"data": {"name": "obs"}, "transform": [{"filter": "datum.obs == '22944 HRC-I'"}], "mark": {"type": "rule", "color": "black", "strokeWidth": 2},
             "encoding": {"x": {"field": "stop", "type": "quantitative"}}}
          ]
        },
        {
          "layer": [
            {"data": {"name": "hv"}, "mark": {"type": "line", "strokeWidth": 9, "strokeCap": "round", "strokeJoin": "round"},
             "encoding": {
               "x": {"field": "h", "type": "quantitative", "scale": {"domain": [16.11, 26.644], "nice": false, "zero": false},
                 "axis": {"orient": "bottom", "values": [18, 20, 22, 24, 26], "grid": true, "gridColor": "#b0b0b0", "gridWidth": 2, "ticks": true, "tickSize": 27, "tickWidth": 3, "labels": false, "title": null}},
               "y": {"field": "v", "type": "quantitative", "scale": {"domain": [0, 266], "nice": false, "zero": false},
                 "axis": {"title": "HV Monitor", "values": [0, 50, 100, 150, 200, 250]}},
               "stroke": {"field": "s", "type": "nominal",
                 "scale": {"domain": ["2IMHBLV", "2IMHVLV", "2SPHVLV", "2SPHBLV"], "range": ["#d62728", "#2ca02c", "#ff7f0e", "#1f77b4"]}, "legend": null}}},
            {"data": {"name": "hvpts"}, "mark": {"type": "circle", "size": 75, "opacity": 1},
             "encoding": {
               "x": {"field": "h", "type": "quantitative"},
               "y": {"field": "v", "type": "quantitative"},
               "color": {"field": "s", "type": "nominal",
                 "scale": {"domain": ["2SPHBLV", "2SPHVLV", "2IMHVLV", "2IMHBLV"], "range": ["#1f77b4", "#ff7f0e", "#2ca02c", "#d62728"]},
                 "legend": {"title": null, "orient": "top-right", "offset": 14, "symbolType": "circle", "symbolSize": 90, "symbolOffset": 31, "labelOffset": 46, "symbolOpacity": 1}}}}
          ]
        }
      ]
    },
    {
      "width": 1704, "height": 663,
      "resolve": {"axis": {"x": "independent"}},
      "layer": [
        {
          "layer": [
            {"data": {"name": "obs"}, "transform": [{"filter": "datum.obs == '22944 HRC-I'"}], "mark": {"type": "rect", "color": "#d62728", "opacity": 0.065},
             "encoding": {"x": {"field": "start", "type": "quantitative", "scale": {"domain": [16.11, 26.644], "nice": false, "zero": false},
               "axis": {"orient": "bottom", "values": [17, 19, 21, 23, 25], "grid": true, "gridColor": "#bdbdbd", "gridDash": [8, 5], "gridWidth": 1.6, "ticks": true, "tickSize": 4, "tickWidth": 1.5, "labels": false, "title": null}},
              "x2": {"field": "stop"}}},
            {"data": {"name": "obs"}, "mark": {"type": "rule", "color": "black", "strokeWidth": 2},
             "encoding": {"x": {"field": "start", "type": "quantitative"}}},
            {"data": {"name": "obs"}, "transform": [{"filter": "datum.obs == '22944 HRC-I'"}], "mark": {"type": "rule", "color": "black", "strokeWidth": 2},
             "encoding": {"x": {"field": "stop", "type": "quantitative"}}}
          ]
        },
        {"data": {"name": "dettemp"}, "mark": {"type": "line", "strokeWidth": 7.5, "interpolate": "step-after", "strokeJoin": "round"},
         "encoding": {
           "x": {"field": "h", "type": "quantitative", "scale": {"domain": [16.11, 26.644], "nice": false, "zero": false},
             "axis": {"orient": "bottom", "values": [18, 20, 22, 24, 26], "grid": true, "gridColor": "#b0b0b0", "gridWidth": 2, "ticks": true, "tickSize": 27, "tickWidth": 3, "labels": false, "title": null}},
           "y": {"field": "v", "type": "quantitative", "scale": {"domain": [16.13, 34.64], "nice": false, "zero": false},
             "axis": {"title": "Detector Temp", "values": [17.5, 20, 22.5, 25, 27.5, 30, 32.5], "format": ".1f"}},
           "color": {"field": "s", "type": "nominal",
             "scale": {"domain": ["2SPINATM", "2SPHVATM", "2IMINATM", "2IMHVATM"], "range": ["#1f77b4", "#ff7f0e", "#2ca02c", "#d62728"]},
             "legend": {"title": null, "orient": "none", "legendX": 730, "legendY": 245, "symbolType": "stroke", "symbolSize": 3025, "symbolStrokeWidth": 7}}}}
      ]
    },
    {
      "width": 1704, "height": 663,
      "resolve": {"axis": {"x": "independent"}},
      "layer": [
        {
          "layer": [
            {"data": {"name": "obs"}, "transform": [{"filter": "datum.obs == '22944 HRC-I'"}], "mark": {"type": "rect", "color": "#d62728", "opacity": 0.065},
             "encoding": {"x": {"field": "start", "type": "quantitative", "scale": {"domain": [16.11, 26.644], "nice": false, "zero": false},
               "axis": {"orient": "bottom", "values": [17, 19, 21, 23, 25], "grid": true, "gridColor": "#bdbdbd", "gridDash": [8, 5], "gridWidth": 1.6, "ticks": true, "tickSize": 4, "tickWidth": 1.5,
                 "labels": true, "labelFontSize": 18, "labelPadding": 2, "title": null,
                 "labelExpr": "(datum.value % 24 < 10 ? '0' : '') + (datum.value % 24) + 'h'"}},
              "x2": {"field": "stop"}}},
            {"data": {"name": "obs"}, "mark": {"type": "rule", "color": "black", "strokeWidth": 2},
             "encoding": {"x": {"field": "start", "type": "quantitative"}}},
            {"data": {"name": "obs"}, "transform": [{"filter": "datum.obs == '22944 HRC-I'"}], "mark": {"type": "rule", "color": "black", "strokeWidth": 2},
             "encoding": {"x": {"field": "stop", "type": "quantitative"}}}
          ]
        },
        {"data": {"name": "featemp"}, "mark": {"type": "line", "strokeWidth": 7.5, "interpolate": "step-after", "strokeJoin": "round"},
         "encoding": {
           "x": {"field": "h", "type": "quantitative", "scale": {"domain": [16.11, 26.644], "nice": false, "zero": false},
             "axis": {"orient": "bottom", "values": [18, 20, 22, 24, 26], "grid": true, "gridColor": "#b0b0b0", "gridWidth": 2, "ticks": true, "tickSize": 27, "tickWidth": 3,
               "labels": true, "labelPadding": 9, "labelExpr": "(datum.value % 24 < 10 ? '0' : '') + (datum.value % 24) + 'h'",
               "title": "2021-03-20 (079)", "titlePadding": 7}},
           "y": {"field": "v", "type": "quantitative", "scale": {"domain": [12.81, 24.66], "nice": false, "zero": false},
             "axis": {"title": "FEA Temp", "values": [14, 16, 18, 20, 22, 24]}},
           "color": {"field": "s", "type": "nominal",
             "scale": {"domain": ["2FHTRMZT", "2FRADPYT", "2FEPRATM", "2FE00ATM"], "range": ["#1f77b4", "#ff7f0e", "#2ca02c", "#d62728"]},
             "legend": {"title": null, "orient": "top-right", "offset": 15, "symbolType": "stroke", "symbolSize": 3025, "symbolStrokeWidth": 7}}}}
      ]
    }
  ]
}
